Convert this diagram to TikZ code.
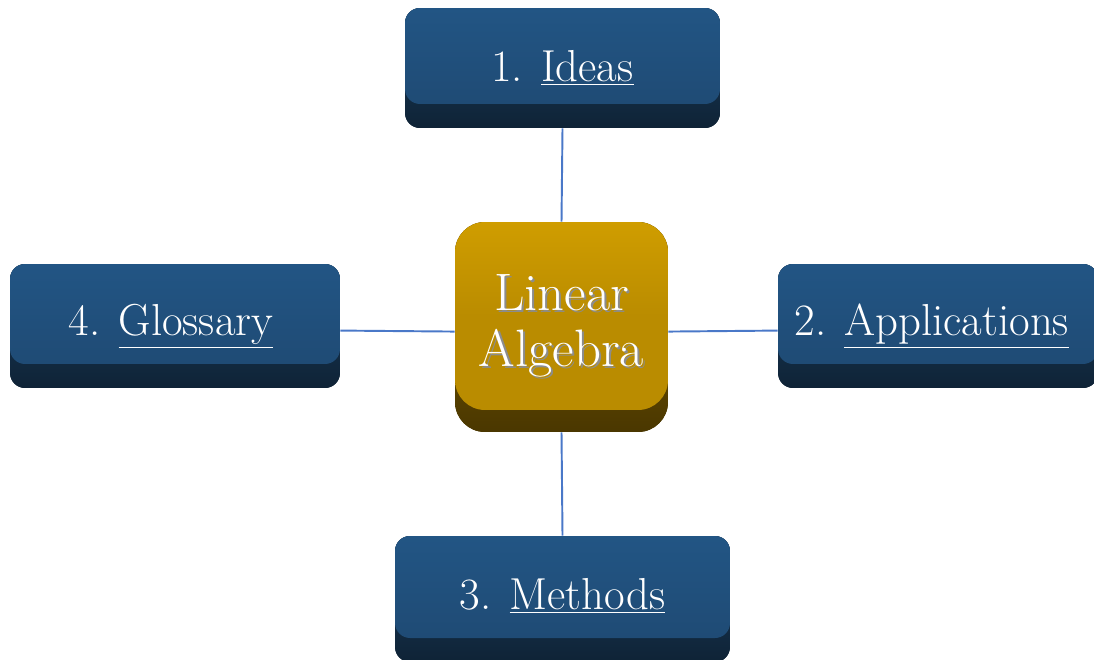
\documentclass[tikz,border=0pt]{standalone}
\usetikzlibrary{calc}
\definecolor{linkblue}{HTML}{4A78C8}
\definecolor{facetop}{HTML}{225584}
\definecolor{facebot}{HTML}{1F4B75}
\definecolor{bandtop}{HTML}{1A3F62}
\definecolor{bandbot}{HTML}{0F2336}
\definecolor{goldtop}{HTML}{CF9D00}
\definecolor{goldbot}{HTML}{BA8C00}
\definecolor{goldbandtop}{HTML}{8A6600}
\definecolor{goldbandbot}{HTML}{4A3700}
\newcommand{\shtxt}[1]{\leavevmode\rlap{\kern1.2pt\raisebox{-1.2pt}{\textcolor{black!45}{#1}}}#1}
\tikzset{
  bluebox/.style={rectangle, rounded corners=0.3cm, fill=bandbot, text=white,
    font=\fontsize{25.5}{30}\selectfont, inner sep=0pt,
    path picture={
      \shade[top color=bandtop, bottom color=bandbot]
        (path picture bounding box.north west) rectangle (path picture bounding box.south east);
      \shade[rounded corners=0.3cm, top color=facetop, bottom color=facebot]
        (path picture bounding box.north west) rectangle ([yshift=0.48cm]path picture bounding box.south east);
    }},
  goldbox/.style={rectangle, rounded corners=0.6cm, fill=goldbandbot, text=white,
    font=\fontsize{30}{32}\selectfont, inner sep=0pt, align=center,
    minimum width=4.26cm, minimum height=4.2cm,
    path picture={
      \shade[top color=goldbandtop, bottom color=goldbandbot]
        (path picture bounding box.north west) rectangle (path picture bounding box.south east);
      \shade[rounded corners=0.6cm, top color=goldtop, bottom color=goldbot, middle color=goldbot]
        (path picture bounding box.north west) rectangle ([yshift=0.44cm]path picture bounding box.south east);
    }},
  link/.style={draw=linkblue, line width=1.1pt}
}
\begin{document}
\begin{tikzpicture}[x=0.02cm, y=-0.02cm]
\useasboundingbox (0,0) rectangle (1094,659);
\node[goldbox] (center) at (561.5,327) {\shtxt{Linear}\\\shtxt{Algebra}};
\node[bluebox, minimum width=6.3cm, minimum height=2.4cm] (ideas) at (562.5,68) {1. \underline{Ideas}};
\node[bluebox, minimum width=6.4cm, minimum height=2.48cm] (apps) at (938,326) {2. \underline{Applications}\kern7pt};
\node[bluebox, minimum width=6.7cm, minimum height=2.52cm] (methods) at (562.5,599) {\raisebox{5.6pt}{3. \underline{Methods}}};
\node[bluebox, minimum width=6.6cm, minimum height=2.48cm] (gloss) at (175,326) {4. \underline{Glossary}\kern4.5pt};
\draw[link] (ideas.south) -- (center.north);
\draw[link] (center.south) -- (methods.north);
\draw[link] ([yshift=-2.6pt]gloss.east) -- ([yshift=-2.6pt]center.west);
\draw[link] ([yshift=-2.6pt]center.east) -- ([yshift=-2.6pt]apps.west);
\end{tikzpicture}
\end{document}
